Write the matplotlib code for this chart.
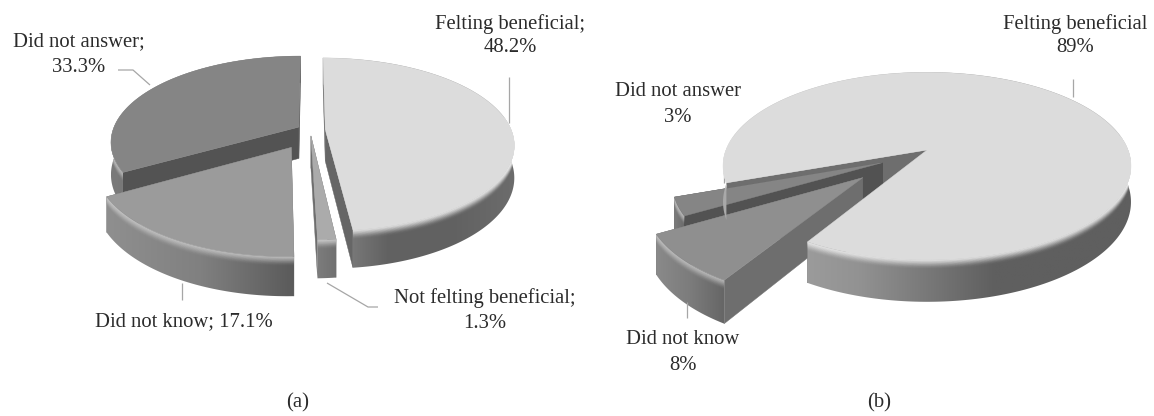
"""Two exploded 3D pie charts, (a) and (b), of perceived benefit."""
from itertools import count

import numpy as np
import matplotlib
matplotlib.use("Agg")
import matplotlib.pyplot as plt
from matplotlib.colors import LinearSegmentedColormap, to_rgb
from matplotlib.patches import Polygon

# chart (a), clockwise from the top
names_a = ["Felting beneficial", "Not felting beneficial", "Did not know", "Did not answer"]
values_a = [48.2, 1.3, 17.1, 33.3]

# chart (b), clockwise from the left
names_b = ["Felting beneficial", "Did not know", "Did not answer"]
values_b = [89, 8, 3]

plt.rcParams["font.family"] = ["Liberation Serif", "DejaVu Serif"]
TEXT = "#2b2b2b"
FS = 14.9

fig = plt.figure(figsize=(11.54, 4.16), dpi=100)
ax = fig.add_axes([0, 0, 1, 1])
z = count(1)  # painter's order, back to front


class Pie:
    def __init__(self, values, start, cx, cy, r, ry, k, depth):
        self.cx, self.cy, self.r, self.ry, self.k, self.depth = cx, cy, r, ry, k, depth
        total = sum(values)
        spans = np.array(values) / total * 360
        self.starts = start + np.concatenate([[0], np.cumsum(spans)[:-1]])
        self.spans = spans

    def project(self, u, v, dep=0.0):
        w = 1 + self.k * v
        return self.cx + self.r * u / w, self.cy - self.ry * v / w + dep / w

    def outline(self, i, off):
        a0, span = self.starts[i], self.spans[i]
        th = np.radians(np.linspace(a0, a0 + span, max(int(span * 2), 8)))
        return np.sin(th) + off[0], np.cos(th) + off[1]

    def faces(self, i, off, color):
        u, v = self.outline(i, off)
        for ue, ve in ((u[0], v[0]), (u[-1], v[-1])):
            pts = [self.project(*off), self.project(ue, ve),
                   self.project(ue, ve, self.depth), self.project(*off, self.depth)]
            ax.add_patch(Polygon(pts, closed=True, fc=color, ec=color, lw=0.3, zorder=next(z)))

    def wall(self, i, off, stops, top):
        u, v = self.outline(i, off)
        x0, y0 = self.project(u, v)
        x1, y1 = self.project(u, v, self.depth)
        pts = np.r_[np.c_[x0, y0], np.c_[x1, y1][::-1]]
        patch = Polygon(pts, closed=True, fc="none", ec="none")
        ax.add_patch(patch)
        cmap = LinearSegmentedColormap.from_list("w", stops)
        im = ax.imshow(np.linspace(0, 1, 256)[None, :], cmap=cmap, vmin=0, vmax=1, aspect="auto",
                       extent=(x1.min(), x1.max(), y1.max() + 2, y0.min() - 2), zorder=next(z))
        im.set_clip_path(patch)
        # soft highlight where the rim rounds over into the wall
        hl = 0.6 * np.array(to_rgb(top)) + 0.4
        front = v - off[1] < 0.15
        for s in np.arange(0, 10, 0.7):
            a = 0.75 * (1 - s / 10) ** 2
            ln, = ax.plot(x0[front], y0[front] + s, color=hl, alpha=a, lw=1.1, zorder=next(z))
            ln.set_clip_path(patch)

    def top(self, i, off, color):
        u, v = self.outline(i, off)
        x, y = self.project(u, v)
        ax.add_patch(Polygon(np.r_[[self.project(*off)], np.c_[x, y]], closed=True,
                             fc=color, ec=color, lw=0.3, zorder=next(z)))


def label(x, y, s):
    ax.text(x, y, s, ha="center", va="center", fontsize=FS, color=TEXT, zorder=1000)


def leader(xs, ys):
    ax.plot(xs, ys, color="#a6a6a6", lw=0.9, solid_capstyle="butt", zorder=next(z))


# chart (a)
pa = Pie(values_a, 0, 310, 130, 186, 84, 0.17, 31.5)
off_a = [(0.082, 0.005), (0.005, -0.07), (-0.097, -0.2), (-0.06, 0.035)]

pa.faces(3, off_a[3], "#535353")
pa.wall(3, off_a[3], ["#7a7a7a", "#6c6c6c", "#5c5c5c"], "#858585")
pa.top(3, off_a[3], "#858585")

pa.faces(0, off_a[0], "#666666")
pa.wall(0, off_a[0], ["#8a8a8a", "#626262", "#616161", "#6c6c6c"], "#dcdcdc")
pa.top(0, off_a[0], "#dcdcdc")

pa.faces(1, off_a[1], "#6e6e6e")
pa.wall(1, off_a[1], ["#7c7c7c", "#707070"], "#ababab")
pa.top(1, off_a[1], "#ababab")

pa.faces(2, off_a[2], "#6b6b6b")
pa.wall(2, off_a[2], ["#8f8f8f", "#808080", "#5a5a5a"], "#9b9b9b")
pa.top(2, off_a[2], "#9b9b9b")

# chart (b): the big slice's wall and top go over the pulled-out slices
pb = Pie(values_b, 250.1, 927, 150, 201, 91, 0.17, 35)
off_b = [(0.0, 0.0), (-0.304, -0.289), (-0.215, -0.135)]

leader([724, 724], [173, 183])

pb.faces(0, off_b[0], "#6e6e6e")
pb.faces(2, off_b[2], "#525252")
pb.wall(2, off_b[2], ["#7c7c7c", "#6c6c6c"], "#858585")
pb.top(2, off_b[2], "#858585")

pb.faces(1, off_b[1], "#6e6e6e")
pb.wall(1, off_b[1], ["#8a8a8a", "#7c7c7c", "#666666"], "#8f8f8f")
pb.top(1, off_b[1], "#8f8f8f")

pb.wall(0, off_b[0], ["#aaaaaa", "#929292", "#5f5f5f", "#5f5f5f"], "#dcdcdc")
pb.top(0, off_b[0], "#dcdcdc")

leader([509, 509], [77, 123])
leader([118, 133, 150], [70, 70, 85])
leader([327, 368, 378], [283, 307, 307])
leader([182, 182], [283, 300])
leader([1073, 1073], [79, 97])
leader([687, 687], [302, 318])

label(510, 24, f"{names_a[0]};")
label(510, 48, f"{values_a[0]}%")
label(79, 42, f"{names_a[3]};")
label(79, 68, f"{values_a[3]}%")
label(184, 322, f"{names_a[2]}; {values_a[2]}%")
label(485, 298, f"{names_a[1]};")
label(485, 324, f"{values_a[1]}%")
label(298, 403, "(a)")

label(1075, 24, names_b[0])
label(1075, 48, f"{values_b[0]}%")
label(678, 92, names_b[2])
label(678, 117, f"{values_b[2]}%")
label(683, 339, names_b[1])
label(683, 365, f"{values_b[1]}%")
label(879, 403, "(b)")

ax.set_xlim(0, 1154)
ax.set_ylim(416, 0)
ax.axis("off")

fig.savefig("out.png", dpi=100)
